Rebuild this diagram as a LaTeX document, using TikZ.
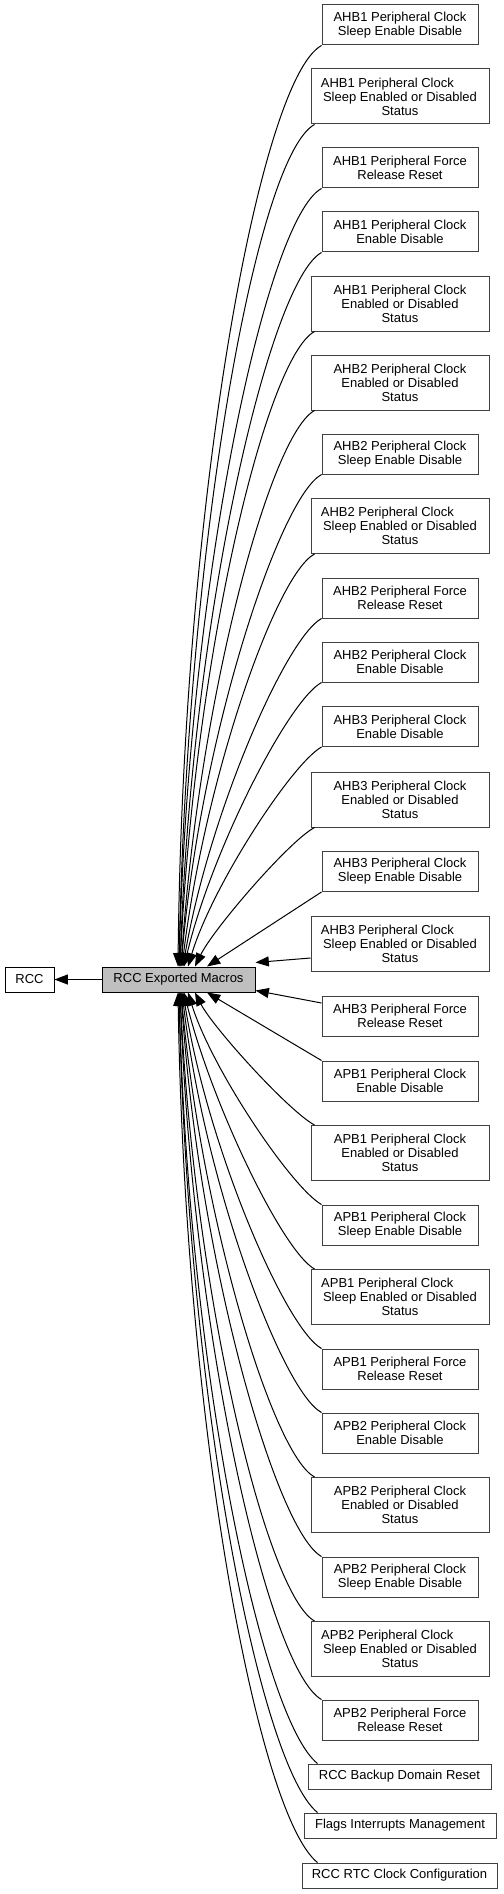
\documentclass[tikz,border=0pt]{standalone}
\usepackage{fontspec}
\setmainfont{Liberation Sans}
\usepackage{xcolor}
\usepackage{tikz}
\usetikzlibrary{arrows.meta,calc}

\begin{document}
\begin{tikzpicture}[
    x=0.75pt, y=-0.75pt,
    box/.style={rectangle, draw=black!75, line width=0.75pt, align=center, inner sep=1pt, minimum width=117pt, minimum height=30pt, font=\fontsize{9.75}{10.6}\selectfont},
    tallbox/.style={box, minimum width=133.5pt, minimum height=41.25pt},
    linebox/.style={box, minimum height=18.75pt},
    current/.style={rectangle, draw=black, fill=gray!50, line width=0.75pt, minimum width=114.75pt, minimum height=18.75pt, inner sep=1pt, font=\fontsize{9.75}{10.6}\selectfont},
    dep/.style={draw=black, line width=0.75pt, -{Triangle[length=10pt,width=7.5pt]}}
]
\useasboundingbox (0,0) rectangle (503,1894);

% Current group and its parent
\node[current] (macros) at (178.5,979.5) {RCC Exported Macros};
\node[current, fill=white, minimum width=36.75pt] (rcc) at (29.5,979.5) {RCC};

% AHB1 groups
\node[box] (ahb1sleep) at (400,25) {AHB1 Peripheral Clock\\Sleep Enable Disable};
\node[tallbox] (ahb1sleepst) at (400,96.5) {AHB1 Peripheral Clock\hspace*{19pt}\\Sleep Enabled or Disabled\\Status};
\node[box] (ahb1force) at (400,168) {AHB1 Peripheral Force\\Release Reset};
\node[box] (ahb1clk) at (400,232) {AHB1 Peripheral Clock\\Enable Disable};
\node[tallbox] (ahb1clkst) at (400,303.5) {AHB1 Peripheral Clock\\Enabled or Disabled\\Status};

% AHB2 groups
\node[tallbox] (ahb2clkst) at (400,382.5) {AHB2 Peripheral Clock\\Enabled or Disabled\\Status};
\node[box] (ahb2sleep) at (400,454) {AHB2 Peripheral Clock\\Sleep Enable Disable};
\node[tallbox] (ahb2sleepst) at (400,526) {AHB2 Peripheral Clock\hspace*{19pt}\\Sleep Enabled or Disabled\\Status};
\node[box] (ahb2force) at (400,598) {AHB2 Peripheral Force\\Release Reset};
\node[box] (ahb2clk) at (400,662) {AHB2 Peripheral Clock\\Enable Disable};

% AHB3 groups
\node[box] (ahb3clk) at (400,726.5) {AHB3 Peripheral Clock\\Enable Disable};
\node[tallbox] (ahb3clkst) at (400,799.5) {AHB3 Peripheral Clock\\Enabled or Disabled\\Status};
\node[box] (ahb3sleep) at (400,871.5) {AHB3 Peripheral Clock\\Sleep Enable Disable};
\node[tallbox] (ahb3sleepst) at (400,944) {AHB3 Peripheral Clock\hspace*{19pt}\\Sleep Enabled or Disabled\\Status};
\node[box] (ahb3force) at (400,1016) {AHB3 Peripheral Force\\Release Reset};

% APB1 groups
\node[box] (apb1clk) at (400,1081) {APB1 Peripheral Clock\\Enable Disable};
\node[tallbox] (apb1clkst) at (400,1153) {APB1 Peripheral Clock\\Enabled or Disabled\\Status};
\node[box] (apb1sleep) at (400,1225) {APB1 Peripheral Clock\\Sleep Enable Disable};
\node[tallbox] (apb1sleepst) at (400,1297) {APB1 Peripheral Clock\hspace*{19pt}\\Sleep Enabled or Disabled\\Status};
\node[box] (apb1force) at (400,1369) {APB1 Peripheral Force\\Release Reset};

% APB2 groups
\node[box] (apb2clk) at (400,1433) {APB2 Peripheral Clock\\Enable Disable};
\node[tallbox] (apb2clkst) at (400,1505) {APB2 Peripheral Clock\\Enabled or Disabled\\Status};
\node[box] (apb2sleep) at (400,1577) {APB2 Peripheral Clock\\Sleep Enable Disable};
\node[tallbox] (apb2sleepst) at (400,1649) {APB2 Peripheral Clock\hspace*{19pt}\\Sleep Enabled or Disabled\\Status};
\node[box] (apb2force) at (400,1720) {APB2 Peripheral Force\\Release Reset};

% Other groups
\node[linebox, minimum width=137.25pt] (bkup) at (399.5,1776.5) {RCC Backup Domain Reset};
\node[linebox, minimum width=144pt] (flags) at (400,1825.5) {Flags Interrupts Management};
\node[linebox, minimum width=146.25pt] (rtc) at (399.5,1875.5) {RCC RTC Clock Configuration};

% Parent edge
\draw[dep] (macros.west) -- (rcc.east);

% Edges from the groups above
\draw[dep] (ahb1sleep.south west) .. controls +(-62,34) and +(5,-467) .. ($(macros.north)+(-0.5,0)$);
\draw[dep] ([xshift=3pt]ahb1sleepst.south west) .. controls +(-58,32) and +(8,-424) .. ($(macros.north)+(0.5,0)$);
\draw[dep] (ahb1force.south west) .. controls +(-55,30) and +(10,-389) .. ($(macros.north)+(0.5,0)$);
\draw[dep] (ahb1clk.south west) .. controls +(-52,29) and +(12,-353) .. ($(macros.north)+(1.5,0)$);
\draw[dep] ([xshift=3pt]ahb1clkst.south west) .. controls +(-49,27) and +(15,-310) .. ($(macros.north)+(1.5,0)$);
\draw[dep] ([xshift=3pt]ahb2clkst.south west) .. controls +(-45,25) and +(18,-266) .. ($(macros.north)+(2.5,0)$);
\draw[dep] (ahb2sleep.south west) .. controls +(-42,23) and +(20,-231) .. ($(macros.north)+(2.5,0)$);
\draw[dep] ([xshift=3pt]ahb2sleepst.south west) .. controls +(-39,21) and +(23,-188) .. ($(macros.north)+(3.5,0)$);
\draw[dep] (ahb2force.south west) .. controls +(-36,20) and +(26,-152) .. ($(macros.north)+(4.5,0)$);
\draw[dep] (ahb2clk.south west) .. controls +(-33,18) and +(28,-117) .. ($(macros.north)+(5.5,0)$);
\draw[dep] (ahb3clk.south west) .. controls +(-30,17) and +(24,-80) .. ($(macros.north)+(9.5,0)$);
\draw[dep] ([xshift=3pt]ahb3clkst.south west) .. controls +(-26,14) and +(18,-37) .. ($(macros.north)+(16.5,0)$);
\draw[dep] (ahb3sleep.south west) -- ($(macros.north)+(28.5,0)$);
\draw[dep] ($(ahb3sleepst.west)+(0,14)$) -- ($(macros.north east)+(0,-4)$);
\draw[dep] ($(ahb3force.west)+(0,-13)$) -- ($(macros.south east)+(0,-2)$);

% Edges from the groups below
\draw[dep] (apb1clk.north west) -- ($(macros.south)+(28.5,0)$);
\draw[dep] ([xshift=3pt]apb1clkst.north west) .. controls +(-26,-14) and +(18,35) .. ($(macros.south)+(16.5,0)$);
\draw[dep] (apb1sleep.north west) .. controls +(-30,-17) and +(24,77) .. ($(macros.south)+(9.5,0)$);
\draw[dep] ([xshift=3pt]apb1sleepst.north west) .. controls +(-32,-18) and +(28,112) .. ($(macros.south)+(5.5,0)$);
\draw[dep] (apb1force.north west) .. controls +(-36,-20) and +(25,156) .. ($(macros.south)+(4.5,0)$);
\draw[dep] (apb2clk.north west) .. controls +(-39,-21) and +(23,192) .. ($(macros.south)+(3.5,0)$);
\draw[dep] ([xshift=3pt]apb2clkst.north west) .. controls +(-42,-23) and +(21,227) .. ($(macros.south)+(2.5,0)$);
\draw[dep] (apb2sleep.north west) .. controls +(-45,-25) and +(18,271) .. ($(macros.south)+(2.5,0)$);
\draw[dep] ([xshift=3pt]apb2sleepst.north west) .. controls +(-48,-27) and +(15,306) .. ($(macros.south)+(1.5,0)$);
\draw[dep] (apb2force.north west) .. controls +(-52,-29) and +(13,349) .. ($(macros.south)+(1.5,0)$);
\draw[dep] ([xshift=7.5pt]bkup.north west) .. controls +(-55,-44) and +(10,385) .. ($(macros.south)+(0.5,0)$);
\draw[dep] ([xshift=10.5pt]flags.north west) .. controls +(-57,-46) and +(9,412) .. ($(macros.south)+(0.5,0)$);
\draw[dep] ([xshift=12pt]rtc.north west) .. controls +(-59,-47) and +(7,439) .. ($(macros.south)+(-0.5,0)$);

\end{tikzpicture}
\end{document}
